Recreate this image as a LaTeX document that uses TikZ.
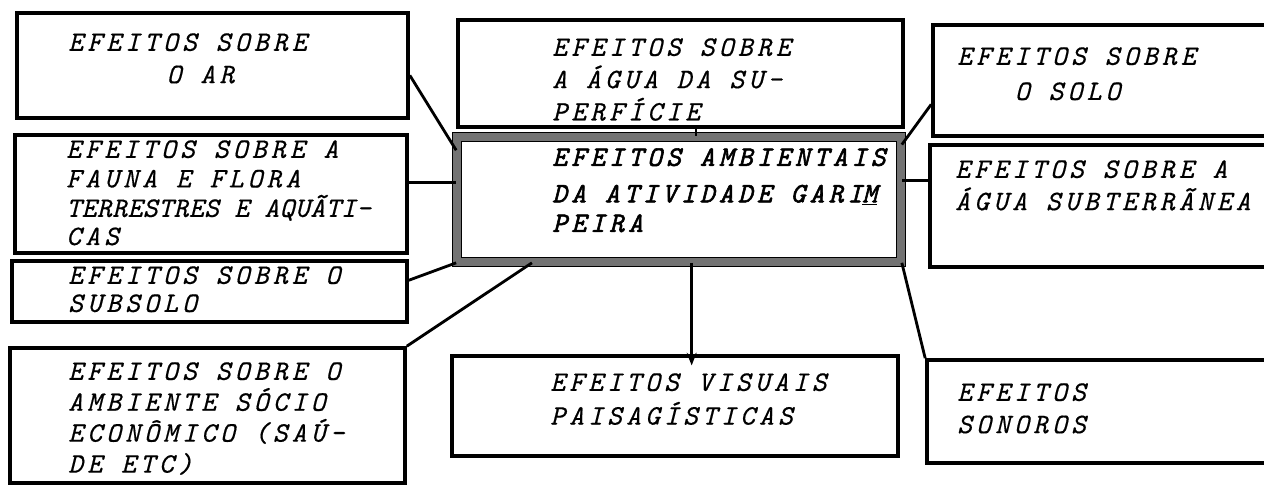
\documentclass[tikz,border=0pt]{standalone}
\usepackage{fontspec}
\usetikzlibrary{fit,calc,arrows.meta}
\newfontfamily\maquina{lmmono10-regular}[Extension=.otf, ItalicFont=lmmono10-italic, ItalicFeatures={FakeBold=0.5}, LetterSpace=15]
\newfontfamily\maquinajusta{lmmono10-italic}[Extension=.otf, LetterSpace=2, FakeBold=0.5]
\newfontfamily\maquinanegra{lmmono10-italic}[Extension=.otf, LetterSpace=15, FakeBold=2]
\tikzset{
  caixa/.style={draw, line width=2.6pt, inner sep=0pt},
  texto/.style={anchor=north west, inner sep=0pt, align=left, font=\maquina\itshape\fontsize{20}{23}\selectfont},
  liga/.style={line width=2pt},
}
\begin{document}
\begin{tikzpicture}[x=0.025cm, y=-0.025cm]
\useasboundingbox (0,0) rectangle (1264,486);
% caixas
\node[caixa, fit={(17,13) (408,118)}] (ar) {};
\node[caixa, fit={(15,135) (407,253)}] (fauna) {};
\node[caixa, fit={(12,261) (407,322)}] (subsolo) {};
\node[caixa, fit={(10,348) (405,483)}] (socio) {};
\node[caixa, fit={(458,20) (903,127)}] (sup) {};
\node[caixa, line width=1.2pt, double=black!55, double distance=5pt, fit={(457,137) (901,262)}] (central) {};
\node[caixa, fit={(933,25) (1290,136)}] (solo) {};
\node[caixa, fit={(930,145) (1290,267)}] (subt) {};
\node[caixa, fit={(452,356) (898,456)}] (visuais) {};
\node[caixa, fit={(927,360) (1290,463)}] (sonoros) {};
% textos
\node[texto] (tar) at (68,33) {EFEITOS SOBRE\\\hspace*{70pt}O AR};
\node[texto] (tfauna) at (66,140) {EFEITOS SOBRE A\\[-2pt]FAUNA E FLORA\\[-2pt]{\maquinajusta\fontsize{20}{23}\selectfont TERRESTRES E AQUÃTI-}\\[-3pt]CAS};
\node[texto] (tsubsolo) at (68,266) {EFEITOS SOBRE O\\[-3pt]SUBSOLO};
\node[texto] (tsocio) at (68,362) {EFEITOS SOBRE O\\[-1pt]AMBIENTE SÓCIO\\[-1pt]ECONÔMICO (SAÚ-\\[-1pt]DE ETC)};
\node[texto] (tsup) at (552,38) {EFEITOS SOBRE\\A ÁGUA DA SU-\\PERFÍCIE};
\node[texto, font=\maquinanegra\fontsize{20}{23}\selectfont] (tcentral) at (552,148) {EFEITOS AMBIENTAIS\\[3pt]DA ATIVIDADE GARI\underline{M}\\[-2pt]PEIRA};
\node[texto] (tsolo) at (957,47) {EFEITOS SOBRE\\[2pt]\hspace*{41pt}O SOLO};
\node[texto] (tsubt) at (955,160) {EFEITOS SOBRE A\\ÁGUA SUBTERRÃNEA};
\node[texto] (tvisuais) at (550,373) {EFEITOS VISUAIS\\[1pt]PAISAGÍSTICAS};
\node[texto] (tsonoros) at (957,383) {EFEITOS\\SONOROS};
% ligacoes
\draw[liga] ([yshift=-7pt]ar.east) -- ([yshift=-10pt]central.north west);
\draw[liga] ([yshift=8pt]fauna.east) -- ([yshift=8pt]fauna.east -| central.west);
\draw[liga] ([yshift=8pt]subsolo.east) -- (central.south west);
\draw[liga] (socio.north east) -- ($(central.south west)!0.17!(central.south east)$);
\draw[liga] ([xshift=11pt]sup.south) -- ([xshift=11pt]sup.south |- central.north);
\draw[liga] ([yshift=-17pt]solo.west) -- ([yshift=-6pt]central.north east);
\draw[liga] ([yshift=18pt]subt.west) -- ([yshift=18pt]subt.west -| central.east);
\draw[liga, -{Stealth[length=9pt,width=7pt]}] ([xshift=9pt]central.south) -- ([xshift=9pt,yshift=-8pt]central.south |- visuais.north);
\draw[liga] (central.south east) -- (sonoros.north west);
\end{tikzpicture}
\end{document}
